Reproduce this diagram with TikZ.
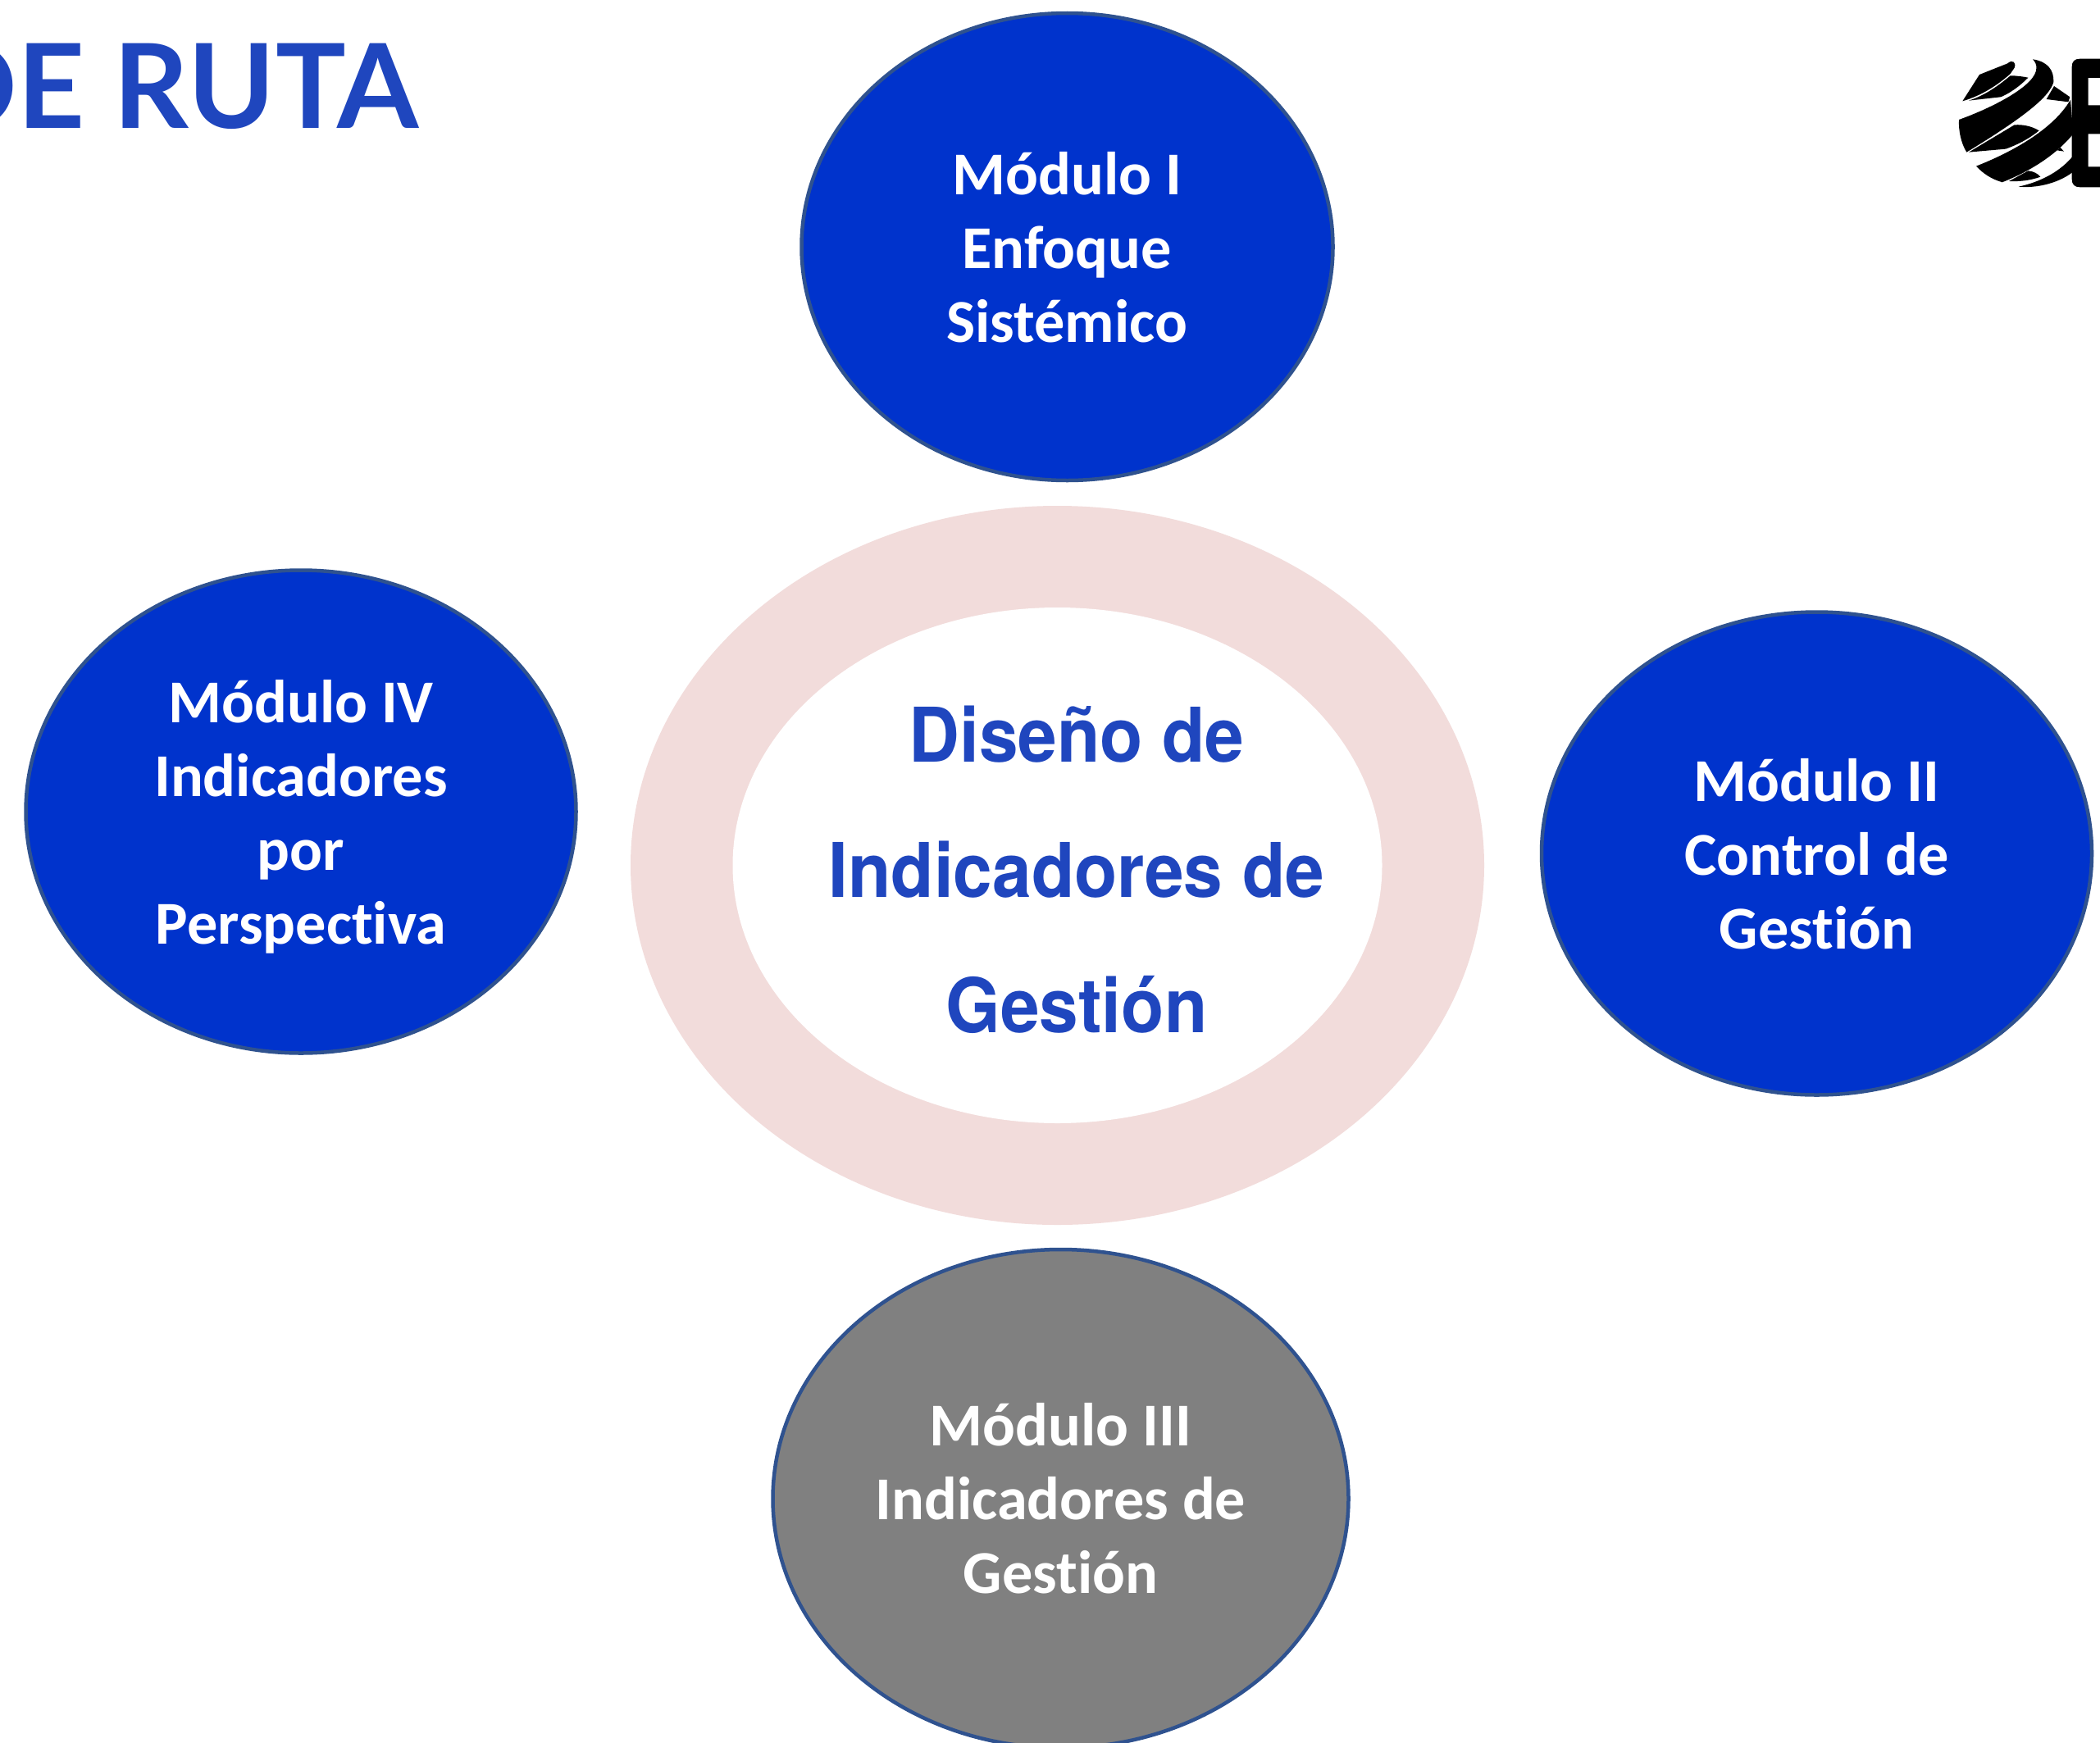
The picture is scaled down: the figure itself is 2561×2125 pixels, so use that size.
\documentclass[tikz,border=0pt]{standalone}
\usepackage{fontspec}
\usetikzlibrary{shapes.geometric}
\setmainfont[RawFeature=-liga]{Carlito}
\newfontfamily\heros[FakeStretch=0.93]{TeX Gyre Heros}
\newfontfamily\titlefont{Lato}
\definecolor{modblue}{HTML}{0033CC}
\definecolor{modedge}{HTML}{2F528F}
\definecolor{modgray}{HTML}{808080}
\definecolor{ringpink}{HTML}{F2DCDB}
\definecolor{inkblue}{HTML}{1F46BE}
\tikzset{
  x=1pt,y=-1pt,
  modnode/.style={ellipse,draw=modedge,line width=4.5pt,fill=modblue,inner sep=0pt},
  modtext/.style={text=white,inner sep=0pt,align=center,font=\fontsize{74.3}{90}\selectfont\bfseries},
  ringnode/.style={ellipse,fill=ringpink,inner sep=0pt},
  holenode/.style={ellipse,fill=white,inner sep=0pt},
  centertext/.style={text=inkblue,align=center,inner sep=0pt,font=\fontsize{92}{165}\selectfont\heros\bfseries},
  titlenode/.style={text=inkblue,inner sep=0pt,anchor=base east,font=\fontsize{143}{150}\selectfont\titlefont\bfseries},
}
\begin{document}
\begin{tikzpicture}
\useasboundingbox (0,0) rectangle (2561,2125);
\clip (0,0) rectangle (2561,2125);
\fill[white] (0,0) rectangle (2561,2125);
\node[titlenode] (title) at (511,156) {DE RUTA};
\node[ringnode,minimum width=1041pt,minimum height=877pt] (ring) at (1289.5,1055.5) {};
\node[holenode,minimum width=792pt,minimum height=629pt] (hole) at (1289.5,1055.5) {};
\node[centertext] (center) at (1313,1060.5) {Diseño de\\Indicadores de\\Gestión};
\node[modnode,minimum width=648pt,minimum height=570pt] (m1) at (1301.5,301) {};
\node[modtext] (m1t) at (1301,302) {Módulo I\\Enfoque\\Sistémico};
\node[modnode,minimum width=671pt,minimum height=589pt] (m4) at (367,990) {};
\node[modtext] (m4t) at (367,996) {Módulo IV\\Indicadores\\por\\Perspectiva};
\node[modnode,minimum width=671pt,minimum height=589pt] (m2) at (2215.5,1041) {};
\node[modtext] (m2t) at (2215.5,1042) {Módulo II\\Control de\\Gestión};
\node[modnode,fill=modgray,minimum width=702pt,minimum height=608pt] (m3) at (1293.5,1828) {};
\node[modtext] (m3t) at (1293.5,1828) {Módulo III\\Indicadores de\\Gestión};
\begin{scope}[shift={(2340,40)},x=0.3333pt,y=-0.3333pt,fill=black]
\fill (160,250) -- (222,153) -- (325,112) .. controls (340,98) and (358,105) .. (350,128) -- (335,150) .. controls (290,190) and (230,230) .. cycle;
\fill (183,248) .. controls (240,230) and (290,195) .. (335,157) .. controls (360,157) and (380,160) .. (400,164) .. controls (370,195) and (335,220) .. (300,235) -- cycle;
\fill (417,97) .. controls (470,105) and (495,135) .. (493,180) .. controls (480,230) and (400,300) .. (175,437) .. controls (155,405) and (145,360) .. (147,318) .. controls (280,270) and (430,190) .. (430,130) .. controls (432,118) and (425,105) .. cycle;
\fill (183,437) -- (350,337) .. controls (385,335) and (415,343) .. (440,358) .. controls (400,390) and (360,410) .. (318,425) -- cycle;
\fill (210,488) .. controls (370,425) and (500,340) .. (555,245) -- (565,370) .. controls (500,450) and (400,510) .. (305,547) .. controls (265,535) and (235,515) .. cycle;
\fill (495,195) -- (553,235) -- (547,253) -- (467,243) -- cycle;
\fill (505,430) -- (518,420) -- (531,434) -- cycle;
\fill (330,543) -- (400,505) .. controls (420,507) and (435,515) .. (445,527) .. controls (410,540) and (370,545) .. cycle;
\fill (365,563) .. controls (450,545) and (520,505) .. (565,450) -- (575,500) .. controls (520,550) and (430,570) .. cycle;
\fill[even odd rule] (590,95) -- (664,95) -- (664,565) -- (590,565) .. controls (570,565) and (560,555) .. (560,535) -- (560,125) .. controls (560,105) and (570,95) .. cycle
  (620,165) rectangle (664,265) (620,370) rectangle (664,490);
\end{scope}
\end{tikzpicture}
\end{document}
